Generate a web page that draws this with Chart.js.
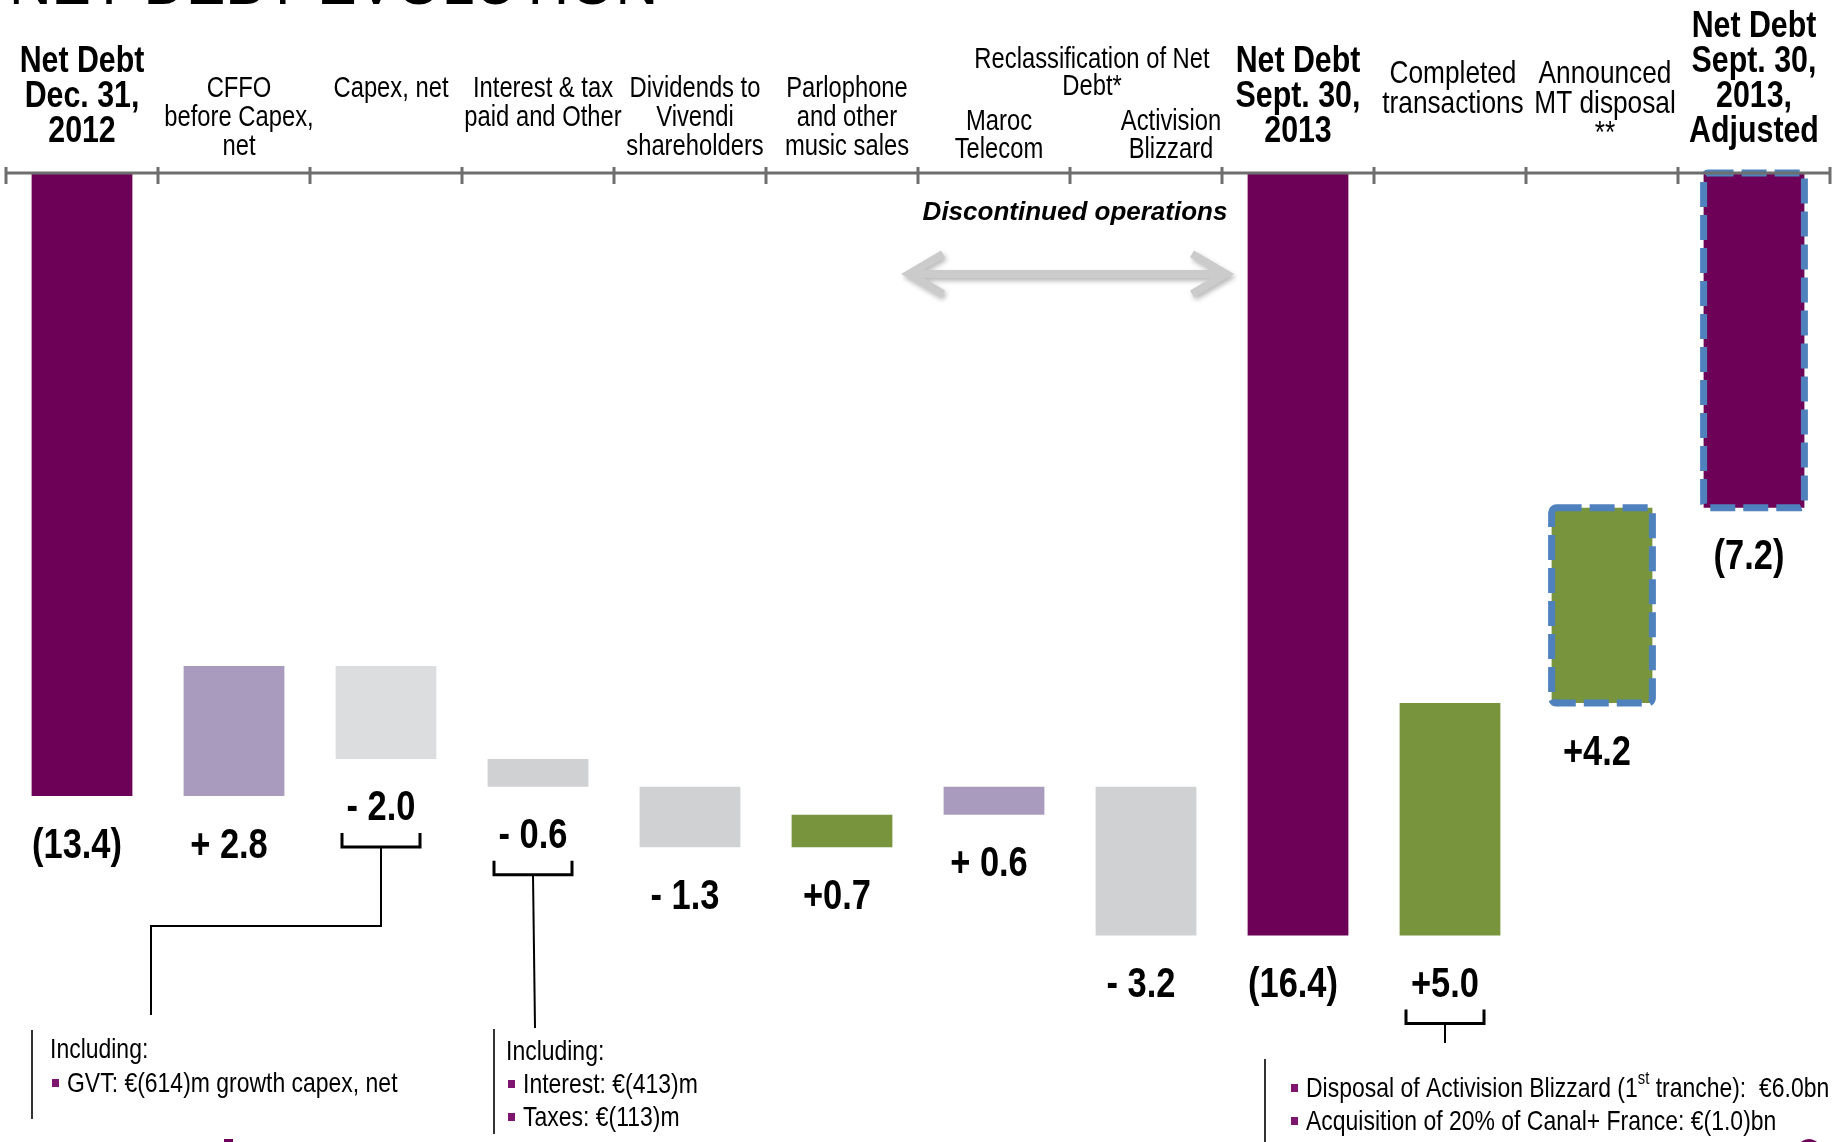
<!DOCTYPE html>
<html>
<head>
<meta charset="utf-8">
<script src="https://cdn.jsdelivr.net/npm/chart.js@4.4.1/dist/chart.umd.min.js"></script>
<style>
  html, body { margin: 0; padding: 0; background: #fff; }
  canvas { display: block; }
</style>
</head>
<body>
<canvas id="chart" width="1837" height="1142"></canvas>
<script>
// column headers, one array of lines per bar
const categories = [
  ['Net Debt', 'Dec. 31,', '2012'],
  ['CFFO', 'before Capex,', 'net'],
  ['Capex, net'],
  ['Interest & tax', 'paid and Other'],
  ['Dividends to', 'Vivendi', 'shareholders'],
  ['Parlophone', 'and other', 'music sales'],
  ['Maroc', 'Telecom'],
  ['Activision', 'Blizzard'],
  ['Net Debt', 'Sept. 30,', '2013'],
  ['Completed', 'transactions'],
  ['Announced', 'MT disposal', '**'],
  ['Net Debt', 'Sept. 30,', '2013,', 'Adjusted']
];

// 'total' = net debt level, 'step' = change of net debt (EUR bn, + means more debt)
const stepType = ['total', 'step', 'step', 'step', 'step', 'step', 'step', 'step', 'total', 'step', 'step', 'total'];
const stepValues = [13.4, -2.8, 2.0, 0.6, 1.3, -0.7, -0.6, 3.2, 16.4, -5.0, -4.2, 7.2];
const valueLabels = ['(13.4)', '+ 2.8', '- 2.0', '- 0.6', '- 1.3', '+0.7', '+ 0.6', '- 3.2', '(16.4)', '+5.0', '+4.2', '(7.2)'];

const groupHeader = ['Reclassification of Net', 'Debt*'];
const groupBars = [6, 7];
const groupNote = 'Discontinued operations';
const announcedBars = [10, 11];

const capexNote = ['Including:', '•GVT: €(614)m growth capex, net'];
const interestNote = ['Including:', '•Interest: €(413)m', '•Taxes: €(113)m'];
const dealsNote = ['•Disposal of Activision Blizzard (1^st^ tranche):  €6.0bn', '•Acquisition of 20% of Canal+ France: €(1.0)bn'];

const PURPLE = '#6D0057';
const LILAC = '#A99BBD';
const GREY_LIGHT = '#DCDDDE';
const GREY = '#D0D1D3';
const GREEN = '#78943C';
const BLUE = '#4F81BD';
const barColors = [PURPLE, LILAC, GREY_LIGHT, GREY, GREY, GREEN, LILAC, GREY, PURPLE, GREEN, GREEN, PURPLE];

// waterfall ranges from the steps
let level = 0;
const ranges = stepValues.map((v, i) => {
  if (stepType[i] === 'total') { level = v; return [0, v]; }
  const from = level;
  level = Math.round((level + v) * 10) / 10;
  return [Math.min(from, level), Math.max(from, level)];
});

const NARROW = 0.82;
const FONT = '"Liberation Sans", Arial, sans-serif';

function drawText(ctx, s, x, y, o) {
  ctx.save();
  ctx.font = (o.italic ? 'italic ' : '') + (o.bold ? 'bold ' : '') + o.size + 'px ' + FONT;
  ctx.fillStyle = o.color || '#000';
  ctx.textAlign = o.align || 'center';
  ctx.textBaseline = 'middle';
  const sx = o.narrow === false ? 1 : NARROW;
  ctx.translate(x, y);
  ctx.scale(sx, 1);
  ctx.fillText(s, 0, 0);
  const w = ctx.measureText(s).width * sx;
  ctx.restore();
  return w;
}

// note line: leading '•' = purple square bullet, ^..^ = superscript
function drawNote(ctx, s, x, y) {
  let px = x;
  if (s[0] === '•') {
    ctx.fillStyle = '#7E1670';
    ctx.fillRect(px + 2, y - 5, 7, 8);
    px += 17;
    s = s.slice(1);
  }
  s.split('^').forEach((part, k) => {
    if (k % 2) px += drawText(ctx, part, px, y - 10, { size: 18, align: 'left' });
    else px += drawText(ctx, part, px, y, { size: 28, align: 'left' });
  });
}

const decorPlugin = {
  id: 'decor',
  afterDatasetsDraw(chart) {
    const ctx = chart.ctx;
    const xs = chart.scales.x, ys = chart.scales.y;
    const meta = chart.getDatasetMeta(0);
    const area = chart.chartArea;
    const step = (area.right - area.left) / categories.length;

    // dashed frames on the announced (pro forma) bars
    announcedBars.forEach(i => {
      const el = meta.data[i];
      const top = Math.min(el.y, el.base), h = Math.abs(el.base - el.y);
      ctx.save();
      ctx.strokeStyle = BLUE;
      ctx.lineWidth = 7;
      ctx.setLineDash([25, 8]);
      ctx.beginPath();
      ctx.roundRect(el.x - el.width / 2, top, el.width, h, 5);
      ctx.stroke();
      ctx.restore();
    });

    // category axis along the top
    ctx.save();
    ctx.strokeStyle = '#6E6E6E';
    ctx.lineWidth = 3;
    ctx.beginPath();
    ctx.moveTo(area.left, area.top);
    ctx.lineTo(area.right, area.top);
    for (let i = 0; i <= categories.length; i++) {
      const bx = Math.round(area.left + i * step);
      ctx.moveTo(bx, area.top - 6);
      ctx.lineTo(bx, area.top + 11);
    }
    ctx.stroke();
    ctx.restore();

    // value labels under each bar
    const labelX = [], labelY = [];
    meta.data.forEach((el, i) => {
      const x = el.x - 5;
      const y = ys.getPixelForValue(ranges[i][1]) + 50;
      labelX.push(x);
      labelY.push(y);
      drawText(ctx, valueLabels[i], x, y, { size: 42, bold: true });
    });

    // brackets + callout lines
    ctx.save();
    ctx.strokeStyle = '#000';
    const bracket = i => {
      const x = labelX[i], t = labelY[i] + 24;
      ctx.lineWidth = 3;
      ctx.beginPath();
      ctx.moveTo(x - 39, t);
      ctx.lineTo(x - 39, t + 14);
      ctx.lineTo(x + 39, t + 14);
      ctx.lineTo(x + 39, t);
      ctx.stroke();
      ctx.lineWidth = 2;
      return { x, y: t + 14 };
    };
    let b = bracket(2);
    ctx.beginPath();
    ctx.moveTo(b.x, b.y);
    ctx.lineTo(b.x, 926);
    ctx.lineTo(area.left + step - 7, 926);
    ctx.lineTo(area.left + step - 7, 1015);
    ctx.stroke();
    b = bracket(3);
    ctx.beginPath();
    ctx.moveTo(b.x, b.y);
    ctx.lineTo(b.x + 2, 1028);
    ctx.stroke();
    b = bracket(9);
    ctx.beginPath();
    ctx.moveTo(b.x, b.y);
    ctx.lineTo(b.x, 1043);
    ctx.stroke();

    // note boxes (left rule + text)
    ctx.strokeStyle = '#333';
    ctx.lineWidth = 2;
    ctx.beginPath();
    ctx.moveTo(32, 1030); ctx.lineTo(32, 1119);
    ctx.moveTo(494, 1029); ctx.lineTo(494, 1134);
    ctx.moveTo(1265, 1059); ctx.lineTo(1265, 1142);
    ctx.stroke();
    ctx.restore();
    capexNote.forEach((s, k) => drawNote(ctx, s, 50, 1050 + k * 34));
    interestNote.forEach((s, k) => drawNote(ctx, s, 506, 1052 + k * 33));
    dealsNote.forEach((s, k) => drawNote(ctx, s, 1289, 1089 + k * 33));

    // discontinued operations: note + double arrow over the reclassification bars
    const gLeft = xs.getPixelForValue(groupBars[0]) - step / 2;
    const gRight = xs.getPixelForValue(groupBars[1]) + step / 2;
    drawText(ctx, groupNote, (gLeft + gRight) / 2 + 5, 213, { size: 26, bold: true, italic: true, narrow: false });
    const ay = ys.getPixelForValue(2.17);
    const a0 = gLeft - 9, a1 = gRight + 4;
    ctx.save();
    ctx.strokeStyle = '#CBCBCB';
    ctx.shadowColor = 'rgba(0,0,0,0.28)';
    ctx.shadowBlur = 5;
    ctx.shadowOffsetX = 2;
    ctx.shadowOffsetY = 3;
    ctx.lineWidth = 8;
    ctx.lineJoin = 'miter';
    ctx.beginPath();
    ctx.moveTo(a0 + 4, ay); ctx.lineTo(a1 - 4, ay);
    ctx.moveTo(a0 + 34, ay - 20); ctx.lineTo(a0, ay); ctx.lineTo(a0 + 34, ay + 20);
    ctx.moveTo(a1 - 34, ay - 20); ctx.lineTo(a1, ay); ctx.lineTo(a1 - 34, ay + 20);
    ctx.stroke();
    ctx.restore();
  },
  afterDraw(chart) {
    const ctx = chart.ctx;
    const xs = chart.scales.x;

    // title, cut by the top edge as in the slide
    drawText(ctx, 'NET DEBT EVOLUTION', 9, 8 - 0.35 * 59, { size: 59, align: 'left', narrow: false });

    categories.forEach((lines, i) => {
      const x = xs.getPixelForValue(i);
      const n = lines.length;
      lines.forEach((s, k) => {
        if (stepType[i] === 'total') {
          drawText(ctx, s, x, 132 - (n - 1 - k) * 35, { size: 37, bold: true });
        } else if (groupBars.includes(i)) {
          const nudge = groupBars.indexOf(i) === 0 ? 5 : 25;
          drawText(ctx, s, x + nudge, 150 - (n - 1 - k) * 28, { size: 29 });
        } else if (i > 8) {
          drawText(ctx, s, x + 3, 74 + k * 30, { size: 32 });
        } else {
          drawText(ctx, s, x + 5, 89 + k * 29, { size: 29 });
        }
      });
    });
    const gx = (xs.getPixelForValue(groupBars[0]) + xs.getPixelForValue(groupBars[1])) / 2 + 22;
    groupHeader.forEach((s, k) => drawText(ctx, s, gx, 60 + k * 27, { size: 29 }));

    // slide footer fragments
    ctx.fillStyle = PURPLE;
    ctx.fillRect(224, 1139, 9, 3);
    ctx.beginPath();
    ctx.ellipse(1809, 1162, 16, 23, 0, 0, Math.PI * 2);
    ctx.fill();
  }
};

new Chart(document.getElementById('chart'), {
  type: 'bar',
  data: {
    labels: categories,
    datasets: [{
      data: ranges,
      backgroundColor: barColors,
      borderWidth: 0,
      borderSkipped: false,
      barPercentage: 0.663,
      categoryPercentage: 1
    }]
  },
  options: {
    responsive: false,
    animation: false,
    devicePixelRatio: 1,
    layout: { padding: { top: 173, left: 6, right: 7, bottom: 39 } },
    scales: {
      x: { display: false },
      y: { display: false, reverse: true, min: 0, max: 20 }
    },
    plugins: { legend: { display: false }, tooltip: { enabled: false } }
  },
  plugins: [decorPlugin]
});
</script>
</body>
</html>
